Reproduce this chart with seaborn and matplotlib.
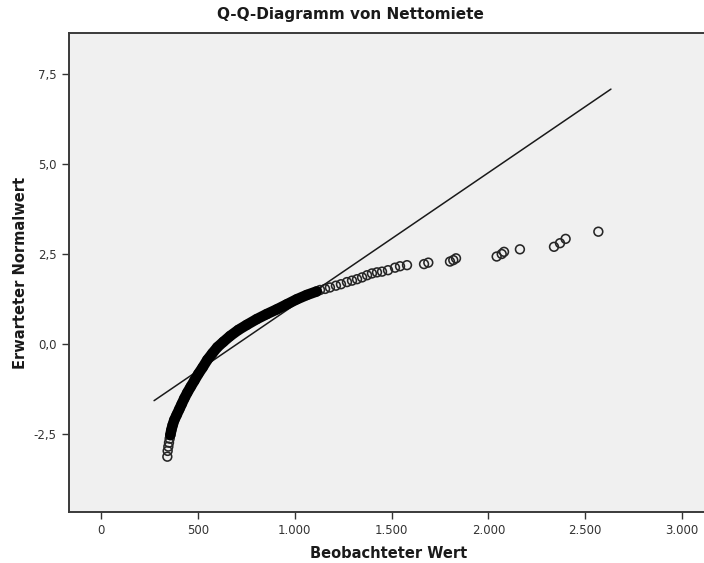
import numpy as np
import pandas as pd
import matplotlib
matplotlib.use("Agg")
import matplotlib.pyplot as plt
from matplotlib.ticker import FuncFormatter, FixedLocator
import seaborn as sns

# Observed rent values (Nettomiete) and their expected normal scores
observed = [342.5, 344.2, 347.7, 351.1, 354.6, 358.0, 363.2, 370.1, 378.6,
            390.7, 404.5, 416.5, 430.3, 445.8, 463.0, 481.9, 502.6, 524.9,
            549.0, 574.9, 600.7, 631.7, 666.1, 709.1, 752.2, 803.8, 855.4,
            907.1, 958.7, 1010.3, 1062.0, 1113.6,
            1131, 1157, 1182, 1213, 1239, 1270, 1296, 1322, 1348, 1374, 1399,
            1425, 1451, 1482, 1518, 1544, 1580,
            1668, 1690, 1802, 1819, 1833, 2043, 2069, 2081, 2163, 2339, 2370,
            2399, 2568]
expected = [-3.13, -2.97, -2.85, -2.74, -2.63, -2.53, -2.39, -2.25, -2.11,
            -1.97, -1.81, -1.67, -1.51, -1.35, -1.19, -1.02, -0.83, -0.65,
            -0.44, -0.26, -0.09, 0.06, 0.22, 0.39, 0.53, 0.69, 0.83,
            0.96, 1.10, 1.24, 1.36, 1.46,
            1.50, 1.53, 1.57, 1.62, 1.66, 1.72, 1.76, 1.80, 1.85, 1.91, 1.96,
            1.99, 2.01, 2.05, 2.12, 2.16, 2.19,
            2.22, 2.26, 2.29, 2.33, 2.38, 2.43, 2.50, 2.56, 2.63, 2.70, 2.80,
            2.92, 3.12]

# Normal reference line parameters
ref_mean = 703.0
ref_sd = 272.6
ref_x = [274, 2633]

x_ticks = [0, 500, 1000, 1500, 2000, 2500, 3000]
y_ticks = [-2.5, 0.0, 2.5, 5.0, 7.5]

df = pd.DataFrame({"obs": observed, "exp": expected})
ref = pd.DataFrame({"x": ref_x})
ref["y"] = (ref["x"] - ref_mean) / ref_sd

sns.set_theme(style="white")
plt.rcParams["font.family"] = ["DejaVu Sans"]

W, H = 704, 563
fig = plt.figure(figsize=(W / 100, H / 100), dpi=100)
left, right, top, bottom = 69, 708, 33, 512
ax = fig.add_axes([left / W, 1 - bottom / H, (right - left) / W, (bottom - top) / H])
ax.set_facecolor("#f0f0f0")

# pixel scale: x=0 at 101 px, 193.67 px per 1000; y=0 at 344 px, 36 px per unit
ax.set_xlim((left - 101) / 0.19367, (right - 101) / 0.19367)
ax.set_ylim((344 - bottom) / 36, (344 - top) / 36)

# reference line
sns.lineplot(data=ref, x="x", y="y", ax=ax, color="#1a1a1a", linewidth=1.1,
             estimator=None, sort=False)

# dense body of overlapping circles
dense = df[(df["exp"] > -2.6) & (df["obs"] < 1120)]
sns.lineplot(data=dense, x="obs", y="exp", ax=ax, color="black", linewidth=7.6,
             estimator=None, sort=False, solid_capstyle="round")

sns.scatterplot(data=df, x="obs", y="exp", ax=ax, s=40, marker="o",
                facecolor="none", edgecolor="#262626", linewidth=1.15)

ax.xaxis.set_major_locator(FixedLocator(x_ticks))
ax.yaxis.set_major_locator(FixedLocator(y_ticks))
ax.xaxis.set_major_formatter(FuncFormatter(lambda v, p: f"{int(v):,}".replace(",", ".")))
ax.yaxis.set_major_formatter(FuncFormatter(lambda v, p: f"{v:.1f}".replace(".", ",")))
ax.tick_params(axis="both", which="major", direction="out", length=5, width=1,
               color="#333333", labelsize=8.5, labelcolor="#333333", pad=4,
               bottom=True, left=True)

for side in ["left", "bottom", "top"]:
    ax.spines[side].set_visible(True)
    ax.spines[side].set_color("#3a3a3a")
    ax.spines[side].set_linewidth(1.4)
ax.spines["right"].set_visible(False)

ax.set_xlabel("Beobachteter Wert", fontsize=10.5, fontweight="bold",
              color="#1a1a1a", labelpad=6)
ax.set_ylabel("Erwarteter Normalwert", fontsize=10.5, fontweight="bold",
              color="#1a1a1a", labelpad=4)
fig.text(350 / W, 1 - 14 / H, "Q-Q-Diagramm von Nettomiete", ha="center",
         va="center", fontsize=11, fontweight="bold", color="#1a1a1a")
if ax.get_legend() is not None:
    ax.get_legend().remove()

fig.savefig("out.png", dpi=100, facecolor="white")
